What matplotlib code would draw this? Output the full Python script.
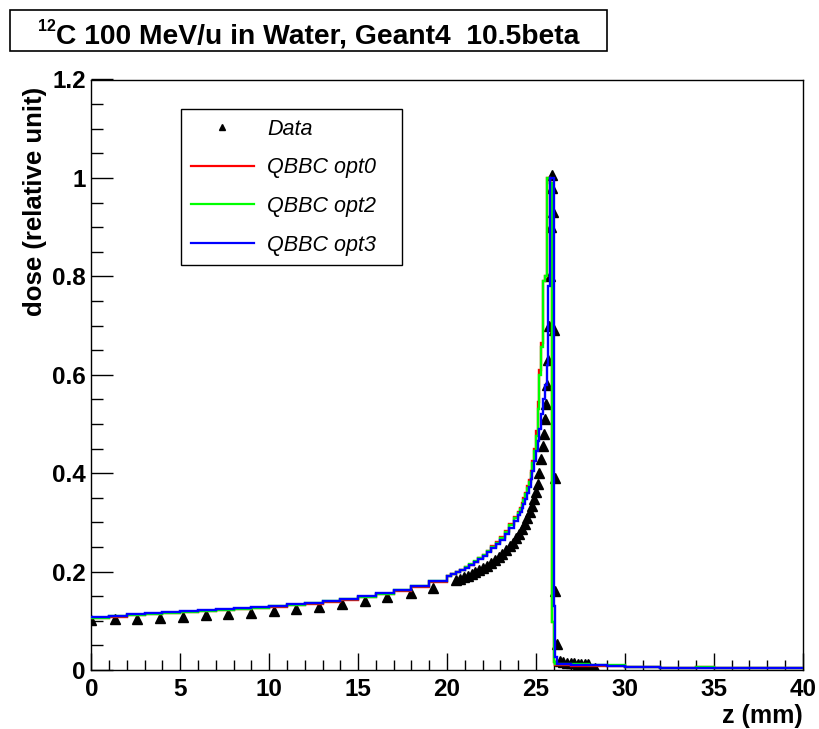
import numpy as np
import matplotlib.pyplot as plt
from matplotlib.lines import Line2D
from matplotlib.patches import Rectangle
from matplotlib.ticker import MultipleLocator, FuncFormatter

plt.rcParams["font.family"] = ["Liberation Sans", "DejaVu Sans"]

# measured depth-dose points (z in mm, relative dose)
data_z = [0.00, 1.31, 2.55, 3.87, 5.13, 6.44, 7.71, 8.96, 10.25, 11.52, 12.79,
          14.08, 15.39, 16.63, 17.95, 19.23,
          20.50, 20.72, 20.94, 21.16, 21.38, 21.60, 21.82, 22.04, 22.26, 22.48,
          22.70, 22.92, 23.12, 23.32, 23.52, 23.72, 23.90, 24.06, 24.22, 24.38,
          24.52, 24.66, 24.78, 24.90, 25.00, 25.10, 25.20, 25.30, 25.38, 25.45,
          25.52, 25.58, 25.64, 25.70, 25.75, 25.80, 25.84, 25.88, 25.92, 25.96,
          26.02, 26.05, 26.07, 26.20,
          26.35, 26.55, 26.75, 26.95, 27.15, 27.35, 27.55, 27.75, 27.95, 28.30]
data_dose = [0.102, 0.103, 0.104, 0.106, 0.108, 0.111, 0.114, 0.116, 0.120, 0.124, 0.129,
             0.135, 0.141, 0.149, 0.157, 0.167,
             0.182, 0.185, 0.188, 0.191, 0.195, 0.199, 0.203, 0.207, 0.212, 0.217,
             0.223, 0.229, 0.236, 0.243, 0.251, 0.259, 0.268, 0.277, 0.287, 0.297,
             0.309, 0.321, 0.334, 0.348, 0.362, 0.379, 0.400, 0.428, 0.455, 0.480,
             0.510, 0.540, 0.580, 0.630, 0.700, 0.800, 0.900, 1.005, 0.980, 0.930,
             0.690, 0.390, 0.160, 0.053,
             0.018, 0.016, 0.015, 0.014, 0.014, 0.013, 0.013, 0.012, 0.012, 0.004]

# Geant4 histograms, common (variable) binning in z (mm)
bin_edges = [0, 1, 2, 3, 4, 5, 6, 7, 8, 9, 10, 11, 12, 13, 14, 15, 16, 17, 18, 19, 20,
             20.25, 20.5, 20.75, 21, 21.25, 21.5, 21.75, 22,
             22.25, 22.5, 22.75, 23, 23.25, 23.5, 23.75, 24,
             24.1, 24.2, 24.3, 24.4, 24.5, 24.6, 24.7, 24.8, 24.9, 25.0,
             25.1, 25.2, 25.3, 25.4, 25.5, 25.6, 25.7, 25.8, 25.9, 26.0,
             26.1, 26.2, 26.3,
             27, 28, 29, 30, 32, 34, 35, 36, 38, 40]

dose_opt0 = [0.105, 0.108, 0.111, 0.113, 0.115, 0.117, 0.119, 0.121, 0.123, 0.126,
             0.129, 0.132, 0.135, 0.139, 0.143, 0.148, 0.154, 0.161, 0.169, 0.179,
             0.191, 0.195, 0.199, 0.204, 0.209, 0.214, 0.220, 0.227,
             0.234, 0.242, 0.251, 0.260, 0.270, 0.282, 0.296, 0.311,
             0.322, 0.330, 0.339, 0.349, 0.360, 0.373, 0.387, 0.404, 0.425, 0.450,
             0.485, 0.545, 0.610, 0.665, 0.790, 0.800, 1.000, 1.000, 0.990, 0.098,
             0.017, 0.011, 0.010,
             0.010, 0.008, 0.009, 0.009, 0.006, 0.004, 0.006, 0.004, 0.004, 0.004]

dose_opt2 = [0.106, 0.109, 0.112, 0.114, 0.116, 0.118, 0.120, 0.122, 0.124, 0.127,
             0.130, 0.133, 0.136, 0.140, 0.144, 0.149, 0.155, 0.162, 0.170, 0.180,
             0.192, 0.196, 0.200, 0.204, 0.209, 0.215, 0.221, 0.227,
             0.234, 0.242, 0.250, 0.259, 0.269, 0.280, 0.294, 0.309,
             0.320, 0.328, 0.336, 0.346, 0.357, 0.369, 0.383, 0.400, 0.420, 0.445,
             0.475, 0.530, 0.600, 0.656, 0.790, 0.800, 1.000, 1.000, 0.990, 0.098,
             0.017, 0.013, 0.012,
             0.013, 0.012, 0.011, 0.011, 0.006, 0.005, 0.007, 0.005, 0.004, 0.004]

dose_opt3 = [0.107, 0.110, 0.113, 0.115, 0.117, 0.119, 0.121, 0.123, 0.125, 0.128,
             0.131, 0.134, 0.137, 0.141, 0.145, 0.150, 0.156, 0.163, 0.171, 0.181,
             0.191, 0.195, 0.199, 0.203, 0.208, 0.213, 0.219, 0.225,
             0.232, 0.240, 0.248, 0.256, 0.265, 0.276, 0.289, 0.303,
             0.314, 0.321, 0.329, 0.338, 0.348, 0.359, 0.372, 0.388, 0.405, 0.425,
             0.445, 0.465, 0.490, 0.520, 0.550, 0.580, 0.620, 0.780, 1.000, 1.000,
             0.130, 0.027, 0.013,
             0.012, 0.011, 0.010, 0.008, 0.006, 0.005, 0.005, 0.004, 0.004, 0.004]

series = [("QBBC opt0", dose_opt0, (1, 0, 0)),
          ("QBBC opt2", dose_opt2, (0, 1, 0)),
          ("QBBC opt3", dose_opt3, (0, 0, 1))]

fig = plt.figure(figsize=(8.19, 7.29), dpi=100)
ax = fig.add_axes([91.3 / 819, 59 / 729, 711.4 / 819, 590.5 / 729])

ax.plot(data_z, data_dose, linestyle="none", marker="^", ms=7.5,
        color="black", zorder=2)
for name, vals, col in series:
    ax.stairs(vals, bin_edges, baseline=None, color=col, lw=1.7, zorder=3)

ax.set_xlim(0, 40)
ax.set_ylim(0, 1.2)
ax.xaxis.set_major_locator(MultipleLocator(5))
ax.xaxis.set_minor_locator(MultipleLocator(1))
ax.yaxis.set_major_locator(MultipleLocator(0.2))
ax.yaxis.set_minor_locator(MultipleLocator(0.05))
ax.yaxis.set_major_formatter(FuncFormatter(lambda v, p: f"{v:g}"))
ax.xaxis.set_major_formatter(FuncFormatter(lambda v, p: f"{v:g}"))

ax.tick_params(axis="x", which="major", direction="in", length=12, width=1,
               labelsize=17.5, pad=6, top=False)
ax.tick_params(axis="x", which="minor", direction="in", length=7, width=1, top=False)
ax.tick_params(axis="y", which="major", direction="in", length=16, width=1,
               labelsize=17.5, pad=4, right=False)
ax.tick_params(axis="y", which="minor", direction="in", length=8.5, width=1, right=False)
for lab in ax.get_xticklabels() + ax.get_yticklabels():
    lab.set_fontweight("bold")
for sp in ax.spines.values():
    sp.set_linewidth(1.0)

ax.set_xlabel("z (mm)", fontsize=18, fontweight="bold", loc="right")
ax.xaxis.set_label_coords(1.0, -0.058)
ax.set_ylabel("dose (relative unit)", fontsize=18.5, fontweight="bold", loc="top")
ax.yaxis.set_label_coords(-0.062, 0.988)

handles = [Line2D([], [], linestyle="none", marker="^", ms=5, color="black")]
handles += [Line2D([], [], color=col, lw=1.6) for _, _, col in series]
labels = ["Data"] + [name for name, _, _ in series]
leg = ax.legend(handles, labels, loc="upper left",
                bbox_to_anchor=(0.126, 0.686, 0.311, 0.264), mode="expand",
                borderaxespad=0, fancybox=False, frameon=True, framealpha=1,
                edgecolor="black", handlelength=2.95, handletextpad=0.6,
                labelspacing=0.82, borderpad=0.45,
                prop={"style": "italic", "size": 15.5})
leg.get_frame().set_linewidth(1.0)

# title box
fig.patches.append(Rectangle((10 / 819, 1 - 51 / 729), 597 / 819, 41 / 729,
                             transform=fig.transFigure, fill=False,
                             edgecolor="black", lw=1.2))
fig.text(38 / 819, 1 - 31 / 729, "12", fontsize=11.5, fontweight="bold",
         va="baseline", ha="left")
fig.text(56 / 819, 1 - 43 / 729, "C 100 MeV/u in Water, Geant4  10.5beta",
         fontsize=20.3, fontweight="bold", va="baseline", ha="left")

fig.savefig("out.png", dpi=100)
